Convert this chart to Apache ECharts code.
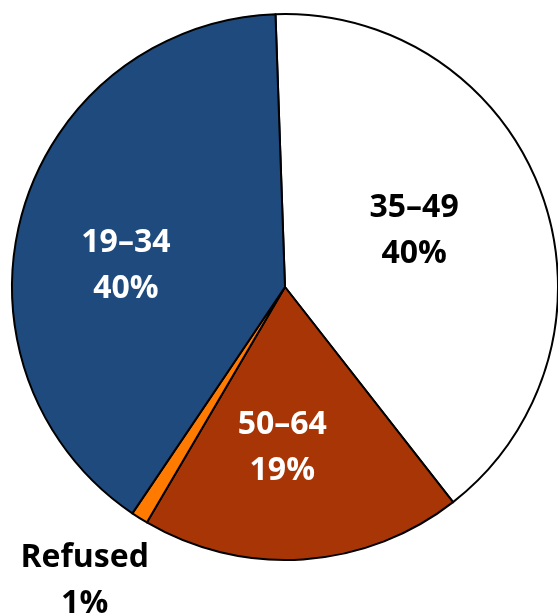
<!DOCTYPE html>
<html>
<head>
<meta charset="utf-8">
<script src="https://cdn.jsdelivr.net/npm/echarts@6/dist/echarts.min.js"></script>
<style>
  html, body { margin: 0; padding: 0; background: #fff; }
  #chart { width: 558px; height: 616px; }
</style>
</head>
<body>
<div id="chart"></div>
<script>
// 年龄段分布
var categories = ["35–49", "50–64", "Refused", "19–34"];
var percents = [40, 19, 1, 40];
var colors = ["#ffffff", "#a83506", "#ff7a00", "#1f4a7d"];
var labelColors = ["#000000", "#ffffff", "#000000", "#ffffff"];
// 标签微调
var labelOffsets = [[-2, -8], [-12, 22], [-126, 176], [-25, 17]];

var chart = echarts.init(document.getElementById("chart"));

var seriesData = categories.map(function (name, i) {
  return {
    name: name,
    value: percents[i],
    itemStyle: { color: colors[i] },
    label: { color: labelColors[i], offset: labelOffsets[i] }
  };
});

chart.setOption({
  animation: false,
  series: [
    {
      type: "pie",
      center: [285, 287],
      radius: 273,
      startAngle: 92,
      clockwise: true,
      avoidLabelOverlap: false,
      itemStyle: { borderColor: "#000", borderWidth: 2 },
      label: {
        show: true,
        position: "inside",
        formatter: "{b}\n{c}%",
        fontFamily: "Open Sans",
        fontWeight: "bold",
        fontSize: 32,
        lineHeight: 46
      },
      labelLine: { show: false },
      data: seriesData
    }
  ]
});
</script>
</body>
</html>
